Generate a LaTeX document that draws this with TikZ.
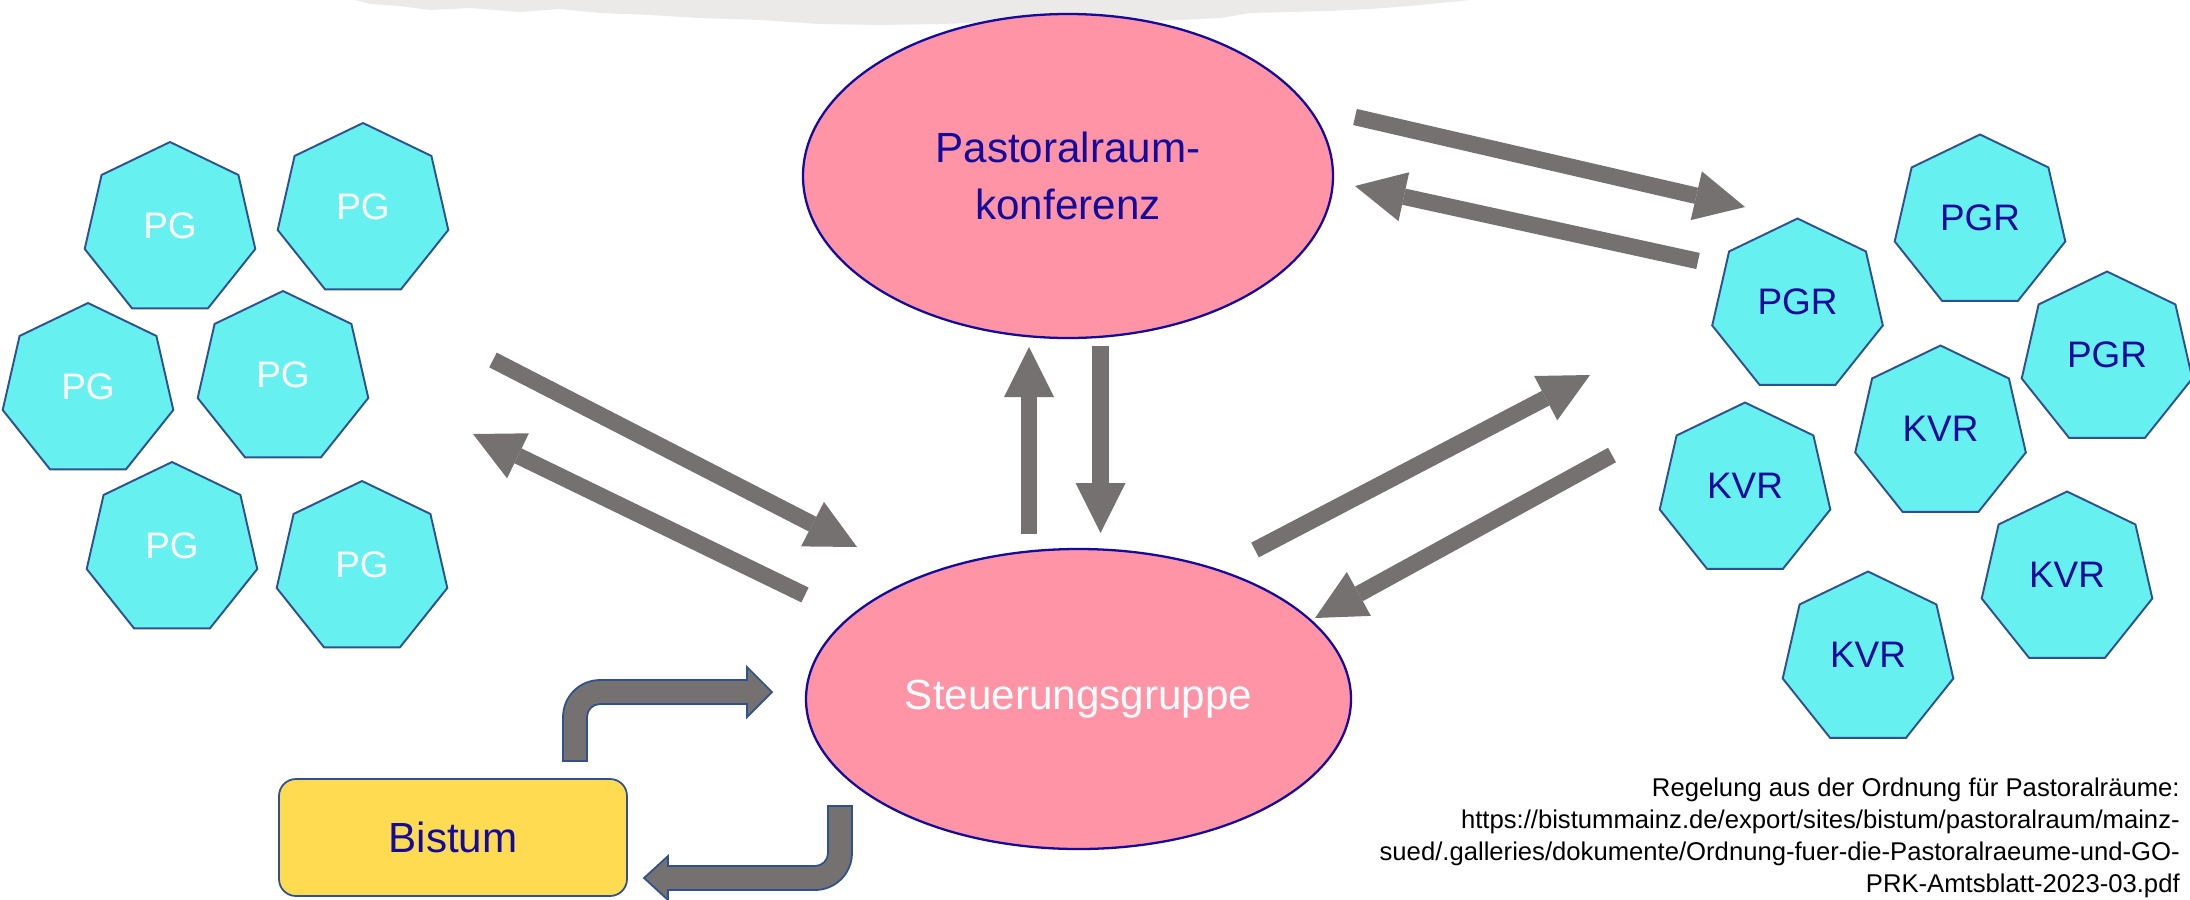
\documentclass[tikz,border=0pt]{standalone}
\usepackage{fontspec}
\setmainfont{Liberation Sans}
\usetikzlibrary{shapes.geometric,arrows.meta}
\definecolor{mpink}{RGB}{255,148,166}
\definecolor{mnavy}{RGB}{20,10,155}
\definecolor{mcyan}{RGB}{102,240,240}
\definecolor{medge}{RGB}{47,82,143}
\definecolor{mgray}{RGB}{117,113,112}
\definecolor{myellow}{RGB}{255,219,82}
\definecolor{mpaper}{RGB}{235,234,232}

\begin{document}
\begin{tikzpicture}[
    hepta/.style={regular polygon,
        regular polygon sides=7,
        minimum size=3.5cm,
        inner sep=0pt,
        text depth=0.16cm,
        draw=medge,
        line width=1.1pt,
        fill=mcyan,
        font=\fontsize{21}{25}\selectfont},
    gremium/.style={ellipse,
        draw=mnavy,
        line width=1.3pt,
        fill=mpink,
        inner sep=0pt,
        align=center,
        font=\fontsize{24}{32.4}\selectfont},
    flow/.style={draw=mgray,
        line width=0.33cm,
        -{Triangle[width=1cm,length=1cm,line width=0pt]}},
    bentflow/.style={fill=mgray, draw=medge, line width=1pt}]

% Canvas
\path[use as bounding box, fill=white] (0,0) rectangle (43.8,-17.98);

% Torn paper strip
\fill[mpaper] (7.1,0) -- (7.4,-0.08) -- (8.0,-0.12) -- (8.6,-0.2) -- (9.4,-0.16)
    -- (10.4,-0.24) -- (11.2,-0.18) -- (12.0,-0.26) -- (13.0,-0.3) -- (14.0,-0.36)
    -- (15.2,-0.4) -- (16.4,-0.48) -- (17.6,-0.5) -- (18.8,-0.48) -- (20.0,-0.44)
    -- (21.2,-0.46) -- (22.4,-0.44) -- (23.6,-0.4) -- (24.4,-0.36) -- (25.0,-0.26)
    -- (25.8,-0.24) -- (26.6,-0.22) -- (27.4,-0.18) -- (28.2,-0.12) -- (28.8,-0.06)
    -- (29.4,0) -- cycle;

% Gremien
\node[gremium,
    minimum width=10.6cm,
    minimum height=6.48cm,
    text=mnavy] (prk) at (21.36,-3.52) {Pastoralraum-\\konferenz};

\node[gremium,
    minimum width=10.9cm,
    minimum height=6cm,
    text=white] (sg) at (21.57,-13.98) {Steuerungsgruppe};

% Bistum
\node[draw=medge,
    line width=1pt,
    fill=myellow,
    rounded corners=0.34cm,
    minimum width=6.96cm,
    minimum height=2.34cm,
    text=mnavy,
    font=\fontsize{24}{30}\selectfont] (bistum) at (9.06,-16.75) {Bistum};

% Pfarrgruppen
\node[hepta, text=white] (pg1) at (3.4,-4.59) {PG};
\node[hepta, text=white] (pg2) at (7.26,-4.21) {PG};
\node[hepta, text=white] (pg3) at (1.76,-7.81) {PG};
\node[hepta, text=white] (pg4) at (5.66,-7.57) {PG};
\node[hepta, text=white] (pg5) at (3.44,-10.99) {PG};
\node[hepta, text=white] (pg6) at (7.24,-11.37) {PG};

% Gremien vor Ort
\node[hepta, text=mnavy] (pgr1) at (39.6,-4.44) {PGR};
\node[hepta, text=mnavy] (pgr2) at (35.95,-6.12) {PGR};
\node[hepta, text=mnavy] (pgr3) at (42.14,-7.18) {PGR};
\node[hepta, text=mnavy] (kvr1) at (38.81,-8.66) {KVR};
\node[hepta, text=mnavy] (kvr2) at (34.9,-9.8) {KVR};
\node[hepta, text=mnavy] (kvr3) at (41.34,-11.58) {KVR};
\node[hepta, text=mnavy] (kvr4) at (37.36,-13.18) {KVR};

% Arrow ends
\coordinate (pgOut) at (9.86,-7.2);
\coordinate (sgIn1) at (17.14,-10.94);
\coordinate (sgOut1) at (16.1,-11.9);
\coordinate (pgIn) at (9.46,-8.68);
\coordinate (sgOut2) at (20.58,-10.68);
\coordinate (prkIn1) at (20.58,-6.94);
\coordinate (prkOut1) at (22.01,-6.92);
\coordinate (sgIn2) at (22.01,-10.66);
\coordinate (prkOut2) at (27.1,-2.34);
\coordinate (pgrIn) at (34.9,-4.14);
\coordinate (pgrOut) at (33.96,-5.22);
\coordinate (prkIn2) at (27.1,-3.72);
\coordinate (sgOut3) at (25.1,-11.0);
\coordinate (kvrIn) at (31.8,-7.5);
\coordinate (kvrOut) at (32.24,-9.1);
\coordinate (sgIn3) at (26.3,-12.36);

% Arrows
\draw[flow] (pgOut) -- (sgIn1);
\draw[flow] (sgOut1) -- (pgIn);
\draw[flow] (sgOut2) -- (prkIn1);
\draw[flow] (prkOut1) -- (sgIn2);
\draw[flow] (prkOut2) -- (pgrIn);
\draw[flow] (pgrOut) -- (prkIn2);
\draw[flow] (sgOut3) -- (kvrIn);
\draw[flow] (kvrOut) -- (sgIn3);

% Bent arrow Bistum -> Steuerungsgruppe
\filldraw[bentflow] (11.26,-15.22) -- (11.26,-14.34)
    arc[start angle=180, end angle=90, radius=0.74] -- (14.94,-13.6)
    -- (14.94,-13.34) -- (15.44,-13.84) -- (14.94,-14.34) -- (14.94,-14.08)
    -- (12.0,-14.08) arc[start angle=90, end angle=180, radius=0.26]
    -- (11.74,-15.22) -- cycle;

% Bent arrow Steuerungsgruppe -> Bistum
\filldraw[bentflow] (16.56,-16.12) -- (16.56,-17.06)
    arc[start angle=0, end angle=-90, radius=0.26] -- (13.36,-17.32)
    -- (13.36,-17.12) -- (12.88,-17.56) -- (13.36,-18.0) -- (13.36,-17.8)
    -- (16.3,-17.8) arc[start angle=-90, end angle=0, radius=0.74]
    -- (17.04,-16.12) -- cycle;

% Source
\node[anchor=east,
    align=right,
    inner sep=0pt,
    font=\fontsize{14.6}{18.3}\selectfont] (quelle) at (43.6,-16.76)
    {Regelung aus der Ordnung für Pastoralräume:\\
    https://bistummainz.de/export/sites/bistum/pastoralraum/mainz-\\
    sued/.galleries/dokumente/Ordnung-fuer-die-Pastoralraeume-und-GO-\\
    PRK-Amtsblatt-2023-03.pdf};

\end{tikzpicture}
\end{document}
